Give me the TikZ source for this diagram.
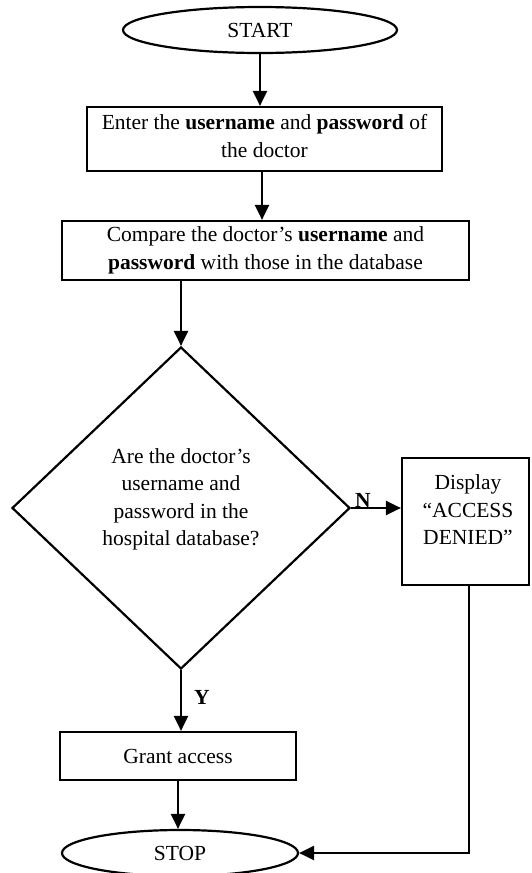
\documentclass[tikz,border=0pt]{standalone}
\usepackage{fontspec}
\setmainfont{Liberation Serif}
\usetikzlibrary{shapes.geometric,arrows.meta}
\begin{document}
\begin{tikzpicture}[x=1pt,y=-1pt,
  every node/.style={font=\fontsize{21.5}{27.5}\selectfont},
  ln/.style={line width=2.2pt},
  box/.style={draw,ln,rectangle,inner sep=0pt,align=center},
  term/.style={draw,ln,ellipse,inner sep=0pt},
  dec/.style={draw,ln,diamond,inner sep=0pt,minimum width=338pt,minimum height=322pt},
  arr/.style={ln,-{Triangle[length=15pt,width=14pt]}},
  lbl/.style={font=\fontsize{21.5}{27.5}\selectfont\bfseries,inner sep=0pt}]
\useasboundingbox (0,0) rectangle (531,873);
\node[term,minimum width=274pt,minimum height=46pt] (start) at (260,30) {START};
\node[box,minimum width=355pt,minimum height=64pt] (box1) at (264.5,139)
  {\raisebox{1pt}[\height][\depth]{\begin{tabular}{@{}c@{}}Enter the \textbf{username} and \textbf{password} of\\the doctor\end{tabular}}};
\node[box,minimum width=407pt,minimum height=59pt] (box2) at (265.5,250.5)
  {Compare the doctor’s \textbf{username} and\\\textbf{password} with those in the database};
\node[dec] (dec) at (181,508)
  {\raisebox{9pt}[\height][\depth]{\begin{tabular}{@{}c@{}}Are the doctor’s\\username and\\password in the\\hospital database?\end{tabular}}};
\node[box,minimum width=127pt,minimum height=127pt] (disp) at (465.5,521.5)
  {\hspace*{5pt}\raisebox{10pt}[\height][\depth]{\begin{tabular}{@{}c@{}}Display\\“ACCESS\\DENIED”\end{tabular}}};
\node[box,minimum width=236pt,minimum height=48pt] (grant) at (178,756) {Grant access};
\node[term,minimum width=236pt,minimum height=46pt] (stop) at (180,853) {STOP};
\coordinate (dispb) at (469,585);
\node[lbl] (nlab) at (363,500) {N};
\node[lbl] (ylab) at (202,697) {Y};
\draw[arr] (start.south) -- (start.south |- box1.north);
\draw[arr] ([xshift=-2.5pt]box1.south) -- ([xshift=-2.5pt]box1.south |- box2.north);
\draw[arr] (dec.north |- box2.south) -- (dec.north);
\draw[arr] (dec.east) -- (dec.east -| disp.west);
\draw[arr] (dec.south) -- (dec.south |- grant.north);
\draw[arr] (grant.south) -- (grant.south |- stop.north);
\draw[arr] (dispb) |- (stop.east);
\end{tikzpicture}
\end{document}
